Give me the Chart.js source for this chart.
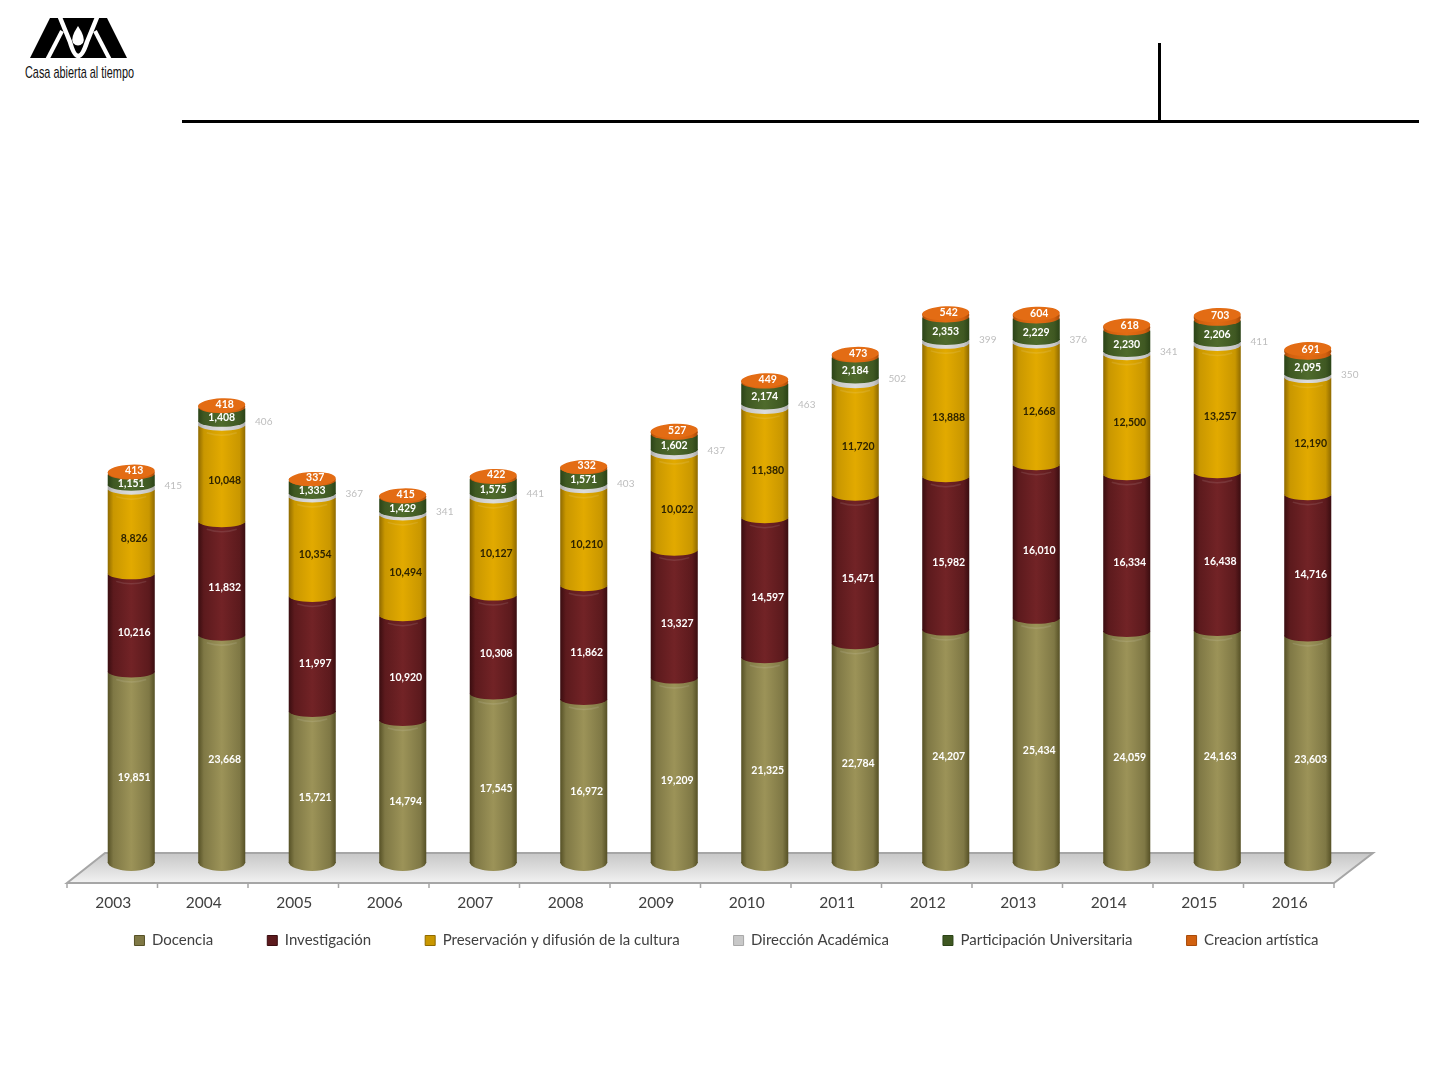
<!DOCTYPE html>
<html lang="es">
<head>
<meta charset="utf-8">
<title>Casa abierta al tiempo</title>
<script src="https://cdn.jsdelivr.net/npm/chart.js@4"></script>
<style>
  html, body { margin: 0; padding: 0; background: #fff; }
  #page { position: relative; width: 1448px; height: 1086px; overflow: hidden; }
  #chart { position: absolute; left: 0; top: 0; }
  #logo { position: absolute; left: 0; top: 0; }
  .rule { position: absolute; background: #000; }
  #rule-h { left: 182px; top: 120px; width: 1237px; height: 3px; }
  #rule-v { left: 1158px; top: 43px; width: 3px; height: 78px; }
</style>
</head>
<body>
<div id="page">
  <svg id="logo" width="180" height="100">
    <polygon points="30,58 50,18 107,18 127,58" fill="#000"/>
    <path d="M59,15 L70,42 Q78,70 87,42 L98,15" fill="none" stroke="#fff" stroke-width="4.5"/>
    <path d="M78,26 Q70,38 73,43 Q78,48 83,43 Q86,38 78,26Z" fill="#fff"/>
    <path d="M47,60 L62,31" stroke="#fff" stroke-width="4"/>
    <path d="M110,60 L95,31" stroke="#fff" stroke-width="4"/>
    <text x="25" y="78" font-family="'Liberation Sans Narrow','Liberation Sans'" font-size="17" textLength="109" lengthAdjust="spacingAndGlyphs" fill="#111">Casa abierta al tiempo</text>
  </svg>
  <div class="rule" id="rule-h"></div>
  <div class="rule" id="rule-v"></div>
  <canvas id="chart" width="1448" height="1086"></canvas>
</div>
<script>
// ── Data ─────────────────────────────────────────────────────────────────────
const YEARS = ["2003", "2004", "2005", "2006", "2007", "2008", "2009", "2010", "2011", "2012", "2013", "2014", "2015", "2016"];
const DOCENCIA = [19851, 23668, 15721, 14794, 17545, 16972, 19209, 21325, 22784, 24207, 25434, 24059, 24163, 23603];
const INVESTIGACION = [10216, 11832, 11997, 10920, 10308, 11862, 13327, 14597, 15471, 15982, 16010, 16334, 16438, 14716];
const PRESERVACION = [8826, 10048, 10354, 10494, 10127, 10210, 10022, 11380, 11720, 13888, 12668, 12500, 13257, 12190];
const DIRECCION = [415, 406, 367, 341, 441, 403, 437, 463, 502, 399, 376, 341, 411, 350];
const PARTICIPACION = [1151, 1408, 1333, 1429, 1575, 1571, 1602, 2174, 2184, 2353, 2229, 2230, 2206, 2095];
const CREACION = [413, 418, 337, 415, 422, 332, 527, 449, 473, 542, 604, 618, 703, 691];

// ── Series styles ────────────────────────────────────────────────────────────
const SERIES = [
  { label: "Docencia", data: DOCENCIA, edge: "#565126", side: "#7f7845", mid: "#9c9358", text: "#ffffff", dx: 3, dy: 10 },
  { label: "Investigación", data: INVESTIGACION, edge: "#3a0d10", side: "#5c1a1d", mid: "#722326", text: "#ffffff", dx: 3, dy: 9 },
  { label: "Preservación y difusión de la cultura", data: PRESERVACION, edge: "#8f6a00", side: "#c99700", mid: "#e2aa00", text: "#2e2300", dx: 3, dy: 7 },
  { label: "Dirección Académica", data: DIRECCION, edge: "#a8a8a8", side: "#c8c8c8", mid: "#dcdcdc", text: "#bdbdbd", dx: 42, dy: -2 },
  { label: "Participación Universitaria", data: PARTICIPACION, edge: "#2b4317", side: "#3f5822", mid: "#4f6b2c", text: "#ffffff", dx: 0, dy: 3 },
  { label: "Creacion artística", data: CREACION, edge: "#a84a08", side: "#d1600f", mid: "#e36c14", text: "#ffffff", dx: 3, dy: -2 },
];

// ── Helpers ──────────────────────────────────────────────────────────────────
function sideGradient(ctx, x, halfWidth, s) {
  const g = ctx.createLinearGradient(x - halfWidth, 0, x + halfWidth, 0);
  g.addColorStop(0, s.edge);
  g.addColorStop(0.12, s.side);
  g.addColorStop(0.5, s.mid);
  g.addColorStop(0.88, s.side);
  g.addColorStop(1, s.edge);
  return g;
}

function drawFloor(chart) {
  const { ctx, scales: { x, y } } = chart;
  const y0 = y.getPixelForValue(0);
  const step = x.getPixelForValue(1) - x.getPixelForValue(0);
  const front = y0 + 20, back = y0 - 10;
  const fill = ctx.createLinearGradient(0, back, 0, front);
  fill.addColorStop(0, "#c6c6c6");
  fill.addColorStop(1, "#f2f2f2");
  ctx.save();
  ctx.beginPath();
  ctx.moveTo(x.left - 19, front);
  ctx.lineTo(x.right - 19, front);
  ctx.lineTo(x.right + 20, back);
  ctx.lineTo(x.left + 19, back);
  ctx.closePath();
  ctx.fillStyle = fill;
  ctx.fill();
  ctx.strokeStyle = "#a6a6a6";
  ctx.lineWidth = 2;
  ctx.stroke();
  ctx.lineWidth = 1.5;
  ctx.beginPath();
  YEARS.concat("").forEach((_, i) => {
    const tx = x.left - 19 + i * step;
    ctx.moveTo(tx, front);
    ctx.lineTo(tx, front + 5);
  });
  ctx.stroke();
  ctx.restore();
}

function drawCaps(chart, meta, s, index) {
  const ctx = chart.ctx;
  meta.data.forEach((bar) => {
    const half = bar.width / 2;
    const ry = index === 0 ? 8 : 5;
    ctx.save();
    ctx.fillStyle = sideGradient(ctx, bar.x, half, s);
    // bottom of the cylinder
    ctx.beginPath();
    ctx.ellipse(bar.x, bar.base - 1, half, ry + 1, 0, 0, Math.PI);
    ctx.fill();
    // faint rim near the top of tall segments
    if (bar.base - bar.y > 40) {
      ctx.strokeStyle = "rgba(255,255,255,0.1)";
      ctx.lineWidth = 1.5;
      ctx.beginPath();
      ctx.moveTo(bar.x - 15, bar.y + 7);
      ctx.quadraticCurveTo(bar.x, bar.y + 12, bar.x + 15, bar.y + 7);
      ctx.stroke();
    }
    // open top face on the last series
    if (index === SERIES.length - 1) {
      ctx.fillStyle = s.mid;
      ctx.beginPath();
      ctx.ellipse(bar.x, bar.y + 1, half, 7, -0.04, 0, Math.PI * 2);
      ctx.fill();
    }
    ctx.restore();
  });
}

// ── Cylinder plugin ──────────────────────────────────────────────────────────
// Chart.js paints the last dataset first; here the upper segments must overlap
// the lower ones, so the datasets are painted from the bottom of the stack up.
const cylinders = {
  id: "cylinders",
  afterLayout(chart) {
    // the legend sits off the plot's centre and close under the year labels
    chart.legend.left += 50;
    chart.legend.right += 50;
    chart.legend.top -= 44;
    chart.legend.bottom -= 44;
  },
  beforeDatasetsDraw(chart) {
    drawFloor(chart);
    SERIES.forEach((s, i) => {
      const meta = chart.getDatasetMeta(i);
      meta.controller.draw();
      drawCaps(chart, meta, s, i);
    });
    return false;
  },
  afterDraw(chart) {
    const ctx = chart.ctx;
    ctx.save();
    ctx.textAlign = "center";
    ctx.textBaseline = "middle";
    SERIES.forEach((s, i) => {
      ctx.font = i === 3 ? "10px Lato" : "bold 10.5px Lato";
      ctx.fillStyle = s.text;
      chart.getDatasetMeta(i).data.forEach((bar, j) => {
        const mid = (bar.y + bar.base) / 2;
        ctx.fillText(s.data[j].toLocaleString("en-US"), bar.x + s.dx, mid + s.dy);
      });
    });
    ctx.restore();
  },
};

// ── Chart ────────────────────────────────────────────────────────────────────
new Chart(document.getElementById("chart"), {
  type: "bar",
  plugins: [cylinders],
  data: {
    labels: YEARS,
    datasets: SERIES.map((s) => ({
      label: s.label,
      data: s.data,
      categoryPercentage: 1,
      barPercentage: 0.52,
      borderRadius: 5,
      borderSkipped: false,
      backgroundColor: (c) => {
        if (c.dataIndex === undefined) return s.side;
        const x = c.chart.scales.x.getPixelForValue(c.dataIndex);
        if (!Number.isFinite(x)) return s.side;
        return sideGradient(c.chart.ctx, x, 23.5, s);
      },
    })),
  },
  options: {
    responsive: false,
    animation: false,
    layout: { padding: { left: 0, right: 95, top: 287, bottom: 84 } },
    plugins: {
      tooltip: { enabled: false },
      legend: {
        position: "bottom",
        labels: {
          color: "#404040",
          font: { family: "Lato", size: 15 },
          boxWidth: 10,
          boxHeight: 10,
          padding: 54,
          generateLabels(chart) {
            return Chart.defaults.plugins.legend.labels.generateLabels(chart).map((item, i) => ({
              ...item,
              fillStyle: SERIES[i].side,
              strokeStyle: SERIES[i].edge,
              lineWidth: 1,
            }));
          },
        },
      },
    },
    scales: {
      x: {
        stacked: true,
        grid: { display: false, drawTicks: false },
        border: { display: false },
        ticks: {
          color: "#404040",
          font: { family: "Lato", size: 15.5 },
          padding: 31,
          labelOffset: -18,
          maxRotation: 0,
          autoSkip: false,
        },
        afterFit(scale) { scale.height = 60; },
      },
      y: {
        stacked: true,
        min: 0,
        max: 60000,
        grid: { display: false },
        border: { display: false },
        ticks: { display: false },
        afterFit(scale) { scale.width = 86; },
      },
    },
  },
});
</script>
</body>
</html>
